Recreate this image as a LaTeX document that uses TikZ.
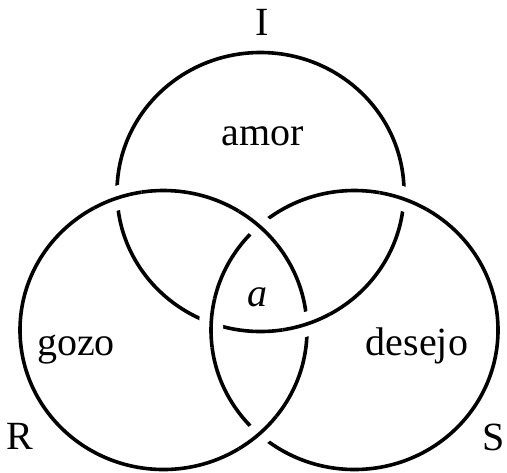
\documentclass[tikz,border=0pt]{standalone}
\usepackage{fontspec}
\setmainfont{Liberation Serif}
\begin{document}
\begin{tikzpicture}[x=0.5pt,y=0.5pt,font=\fontsize{20}{24}\selectfont,
    ring/.style={line width=1.8pt},
    overpass/.style={line width=1.8pt,preaction={draw=white,line width=12pt}},
    lbl/.style={anchor=base,inner sep=0pt}]
    \useasboundingbox (0,0) rectangle (507,-472);

    \coordinate (ci) at (260.5,-192);
    \coordinate (cr) at (163.5,-330);
    \coordinate (cs) at (354.5,-330);
    \foreach \c in {ci,cr,cs}
        \draw[ring] (\c) ellipse [x radius=143.5,y radius=139.5];

    % the strand on top at each crossing
    \foreach \c/\a [evaluate=\a as \s using \a-10,
                    evaluate=\a as \e using \a+10] in
        {cr/108.85,ci/288.85,cs/69.9,cs/177.1,cr/48.3,cr/-48.3}
        \draw[overpass] ([shift={(\s:143.5 and 139.5)}]\c)
            arc[start angle=\s,end angle=\e,x radius=143.5,y radius=139.5];

    \node[lbl] (li) at (262,-35) {I};
    \node[lbl] (lr) at (20,-449) {R};
    \node[lbl] (ls) at (494,-450) {S};
    \node[lbl] (amor) at (263,-145) {amor};
    \node[lbl] (obja) at (257,-306) {\itshape a};
    \node[lbl] (gozo) at (76,-355) {gozo};
    \node[lbl] (desejo) at (417,-355) {desejo};
\end{tikzpicture}
\end{document}
